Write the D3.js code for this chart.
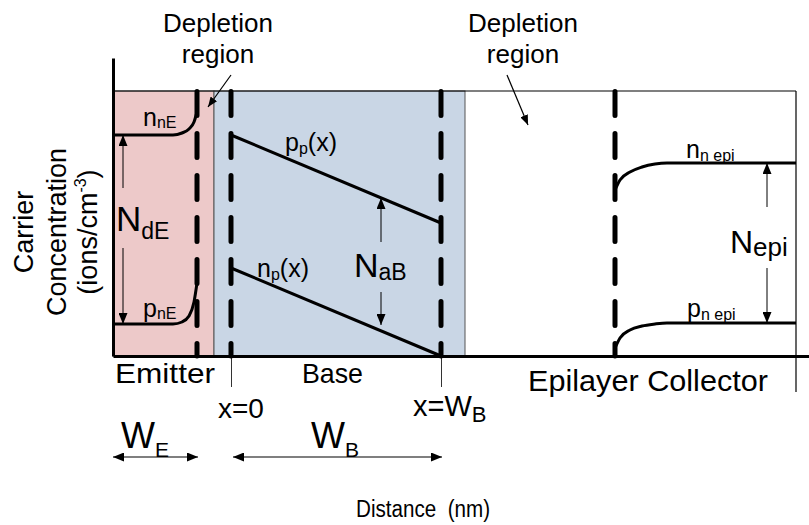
<!DOCTYPE html>
<html><head><meta charset="utf-8">
<script src="https://cdn.jsdelivr.net/npm/d3@7"></script>
<style>
html,body{margin:0;padding:0;background:#fff;}
text{font-family:"Liberation Sans",Arial,sans-serif;fill:#000;}
</style></head><body>
<svg id="c" width="809" height="525"></svg>
<script>
// ---------- data (distance units along x, concentration units along y) ----------
const regionNames  = ["Emitter", "Base", "Epilayer Collector"];
const regionStart  = [0, 101, 352];
const regionEnd    = [101, 352, 683];
const regionFill   = ["#edc9c9", "#c9d6e5", "none"];
const depletionEdges = [84, 118, 328, 502];
const baseTicks    = [118, 328];
const nnE   = [[0,221],[60,221],[69,223],[76,227],[81,234],[84,244]];
const pnE   = [[0,32],[60,32],[69,34],[76,40],[81,54],[84,73]];
const ppX   = [[118,221],[328,133]];
const npX   = [[118,88],[328,0]];
const nnEpi = [[502,166],[507,176],[517,184],[529,189],[542,192],[554,193],[683,193]];
const pnEpi = [[502,8],[507,18],[517,26],[529,30],[542,32],[554,33],[683,33]];
const xMax = 696, yMax = 265, yAxisTop = 298, frameRight = 683;

// ---------- scales ----------
const svg = d3.select("#c");
const x = d3.scaleLinear().domain([0, xMax]).range([113, 809]);
const y = d3.scaleLinear().domain([0, yMax]).range([356, 91]);

const defs = svg.append("defs");
function marker(id, w, h) {
  defs.append("marker").attr("id", id).attr("markerUnits", "userSpaceOnUse")
    .attr("viewBox", `0 0 ${w} ${h}`).attr("refX", w).attr("refY", h/2)
    .attr("markerWidth", w).attr("markerHeight", h).attr("orient", "auto-start-reverse")
    .append("path").attr("d", `M0,0L${w},${h/2}L0,${h}Z`).attr("fill", "#000");
}
marker("ah", 11, 9);
marker("ahs", 10, 8);

// ---------- regions ----------
svg.selectAll("rect.reg").data(regionNames).join("rect").attr("class","reg")
  .attr("x", (d,i) => x(regionStart[i])).attr("width", (d,i) => x(regionEnd[i]) - x(regionStart[i]))
  .attr("y", y(yMax)).attr("height", y(0) - y(yMax))
  .attr("fill", (d,i) => regionFill[i]).attr("stroke", (d,i) => i < 2 ? "#555" : "none").attr("stroke-width", 1);

// top border + right edge
svg.append("line").attr("x1", x(0)).attr("x2", x(frameRight)).attr("y1", y(yMax)).attr("y2", y(yMax))
  .attr("stroke", "#000").attr("stroke-width", 1.2);
svg.append("line").attr("x1", x(frameRight)).attr("x2", x(frameRight)).attr("y1", y(yMax)).attr("y2", y(-36))
  .attr("stroke", "#000").attr("stroke-width", 1.2);

// ---------- axes ----------
const xAxis = svg.append("g").attr("transform", `translate(0,${y(0)})`)
  .call(d3.axisBottom(x).tickValues(baseTicks).tickSize(31).tickSizeOuter(0).tickFormat(""));
xAxis.select(".domain").attr("stroke-width", 3);
xAxis.selectAll(".tick line").attr("stroke-width", 1).attr("stroke", "#333");
const yAxis = svg.append("g").attr("transform", `translate(${x(0)},0)`)
  .call(d3.axisLeft(d3.scaleLinear().domain([0, yAxisTop]).range([y(0), y(yAxisTop)])).tickValues([]).tickSizeOuter(0));
yAxis.select(".domain").attr("stroke-width", 3);

// ---------- concentration curves ----------
const lineGen = d3.line().x(d => x(d[0])).y(d => y(d[1])).curve(d3.curveMonotoneX);
[nnE, pnE, ppX, npX, nnEpi, pnEpi].forEach(s => {
  svg.append("path").attr("d", lineGen(s)).attr("fill", "none").attr("stroke", "#000").attr("stroke-width", 3);
});

// ---------- depletion edges (dashed) ----------
svg.selectAll("line.dep").data(depletionEdges).join("line").attr("class","dep")
  .attr("x1", d => x(d)).attr("x2", d => x(d)).attr("y1", y(yMax) + 0.5).attr("y2", y(0))
  .attr("stroke", "#000").attr("stroke-width", 5).attr("stroke-linecap", "round")
  .attr("stroke-dasharray", "24,18");

// ---------- arrows ----------
function arrow(x1, v1, x2, v2, m, w) {
  svg.append("line").attr("x1", x(x1)).attr("y1", y(v1)).attr("x2", x(x2)).attr("y2", y(v2))
    .attr("stroke", "#000").attr("stroke-width", w || 1).attr("marker-end", `url(#${m})`);
}
// doping arrows (N_dE, N_aB, N_epi)
arrow(10, 168, 10, 221, "ah"); arrow(10, 108, 10, 32, "ah");
arrow(268, 114, 268, 158, "ah"); arrow(268, 64, 268, 31, "ah");
arrow(654, 149, 654, 193, "ah"); arrow(654, 88, 654, 33, "ah");
// depletion region pointers
arrow(118, 281, 95, 249, "ahs", 1.2);
arrow(394, 281, 415, 231, "ahs", 1.2);
// width arrows
svg.append("line").attr("x1", x(0)).attr("x2", x(85)).attr("y1", 457).attr("y2", 457)
  .attr("stroke", "#000").attr("stroke-width", 1.2).attr("marker-start", "url(#ah)").attr("marker-end", "url(#ah)");
svg.append("line").attr("x1", x(120)).attr("x2", x(329)).attr("y1", 457).attr("y2", 457)
  .attr("stroke", "#000").attr("stroke-width", 1.2).attr("marker-start", "url(#ah)").attr("marker-end", "url(#ah)");

// ---------- text ----------
function label(px, py, parts, size) {
  const t = svg.append("text").attr("x", px).attr("y", py).attr("font-size", size);
  let shift = 0;
  parts.forEach(p => {
    const ts = t.append("tspan").text(p.t);
    const s = p.s || 0;
    ts.attr("dy", s - shift); shift = s;
    if (p.fs) ts.attr("font-size", p.fs);
  });
  return t;
}
// depletion titles
[[218, 32, "Depletion"], [218, 63, "region"], [523, 32, "Depletion"], [523, 63, "region"]].forEach(d => {
  svg.append("text").attr("x", d[0]).attr("y", d[1]).attr("text-anchor", "middle").attr("font-size", 26).text(d[2]);
});
// carrier labels
label(x(30), y(230), [{t:"n"}, {t:"nE", fs:16, s:2}], 25);
label(x(30), y(39), [{t:"p"}, {t:"nE", fs:16, s:2}], 25);
label(x(172), y(205), [{t:"p"}, {t:"p", fs:16, s:3}, {t:"(x)", s:0}], 25);
label(x(144), y(79), [{t:"n"}, {t:"p", fs:16, s:3}, {t:"(x)", s:0}], 25);
label(x(573), y(198), [{t:"n"}, {t:"n epi", fs:16, s:3}], 25);
label(x(574), y(39), [{t:"p"}, {t:"n epi", fs:16, s:3}], 25);
// doping labels
label(116, 231, [{t:"N"}, {t:"dE", fs:23, s:8}], 35);
label(354, 277, [{t:"N"}, {t:"aB", fs:23, s:3}], 34);
label(730, 253, [{t:"N"}, {t:"epi", fs:26, s:3}], 32);
// region names
svg.append("text").attr("x", 115).attr("y", 383).attr("font-size", 28).attr("textLength", 100).attr("lengthAdjust", "spacingAndGlyphs").text(regionNames[0]);
svg.append("text").attr("x", 302).attr("y", 383).attr("font-size", 28).attr("textLength", 61).attr("lengthAdjust", "spacingAndGlyphs").text(regionNames[1]);
svg.append("text").attr("x", 528).attr("y", 391).attr("font-size", 29).attr("textLength", 240).attr("lengthAdjust", "spacingAndGlyphs").text(regionNames[2]);
// position labels
svg.append("text").attr("x", 218).attr("y", 418).attr("font-size", 28).text("x=0");
label(413, 416, [{t:"x=W"}, {t:"B", fs:22, s:6}], 29);
label(121, 448, [{t:"W"}, {t:"E", fs:21, s:9}], 36);
label(311, 448, [{t:"W"}, {t:"B", fs:21, s:9}], 36);
// axis titles
svg.append("text").attr("x", 356).attr("y", 517).attr("font-size", 23).attr("xml:space", "preserve")
  .style("white-space", "pre").attr("textLength", 134).attr("lengthAdjust", "spacingAndGlyphs").text("Distance  (nm)");
const yl = svg.append("g").attr("transform", "rotate(-90)");
yl.append("text").attr("x", -232).attr("y", 33).attr("text-anchor", "middle").attr("font-size", 27).text("Carrier");
yl.append("text").attr("x", -232).attr("y", 66).attr("text-anchor", "middle").attr("font-size", 27).text("Concentration");
const t3 = yl.append("text").attr("x", -232).attr("y", 97).attr("text-anchor", "middle").attr("font-size", 27);
t3.append("tspan").text("(ions/cm");
t3.append("tspan").attr("font-size", 16).attr("dy", -11).text("-3");
t3.append("tspan").attr("dy", 11).text(")");
</script>
</body></html>
